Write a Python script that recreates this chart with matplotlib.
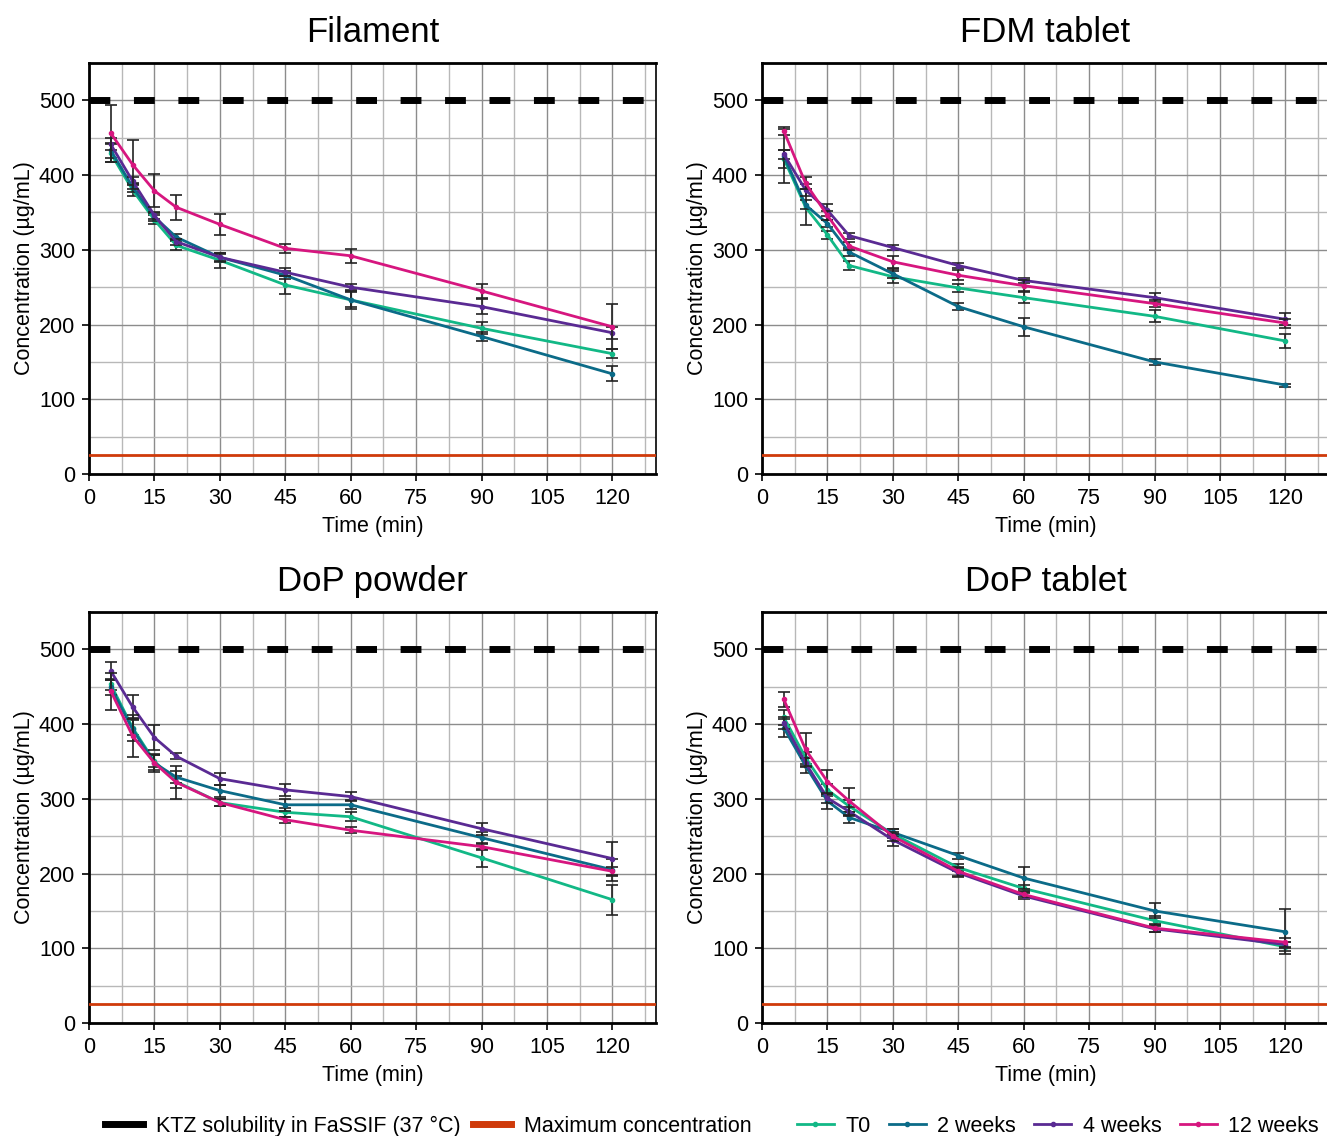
import numpy as np
import matplotlib
matplotlib.use('Agg')
import matplotlib.pyplot as plt
from matplotlib.lines import Line2D
from matplotlib.ticker import MultipleLocator

plt.rcParams['font.family'] = ['Liberation Sans', 'DejaVu Sans']

# sampling times (min)
times = [5, 10, 15, 20, 30, 45, 60, 90, 120]

series_names = ['T0', '2 weeks', '4 weeks', '12 weeks']
series_colors = ['#12b886', '#0b6b88', '#5a2a93', '#d6167f']

panel_titles = ['Filament', 'FDM tablet', 'DoP powder', 'DoP tablet']

solubility = 500      # KTZ solubility in FaSSIF
max_conc = 25         # maximum concentration

# mean concentrations (µg/mL) per panel, per series
filament_mean = [
    [429, 380, 340, 306, 286, 253, 233, 195, 161],
    [433, 384, 344, 317, 290, 266, 233, 184, 134],
    [441, 392, 346, 311, 290, 270, 250, 224, 189],
    [456, 414, 379, 357, 334, 302, 292, 245, 197],
]
filament_err = [
    [12, 8, 6, 6, 10, 12, 10, 8, 6],
    [10, 6, 5, 4, 6, 5, 12, 6, 10],
    [8, 5, 5, 4, 5, 5, 4, 10, 8],
    [38, 33, 22, 17, 14, 6, 9, 9, 30],
]

fdm_mean = [
    [422, 357, 320, 279, 264, 249, 236, 211, 178],
    [426, 360, 335, 297, 268, 224, 197, 150, 119],
    [428, 380, 353, 319, 303, 279, 259, 236, 207],
    [459, 389, 346, 305, 284, 266, 252, 228, 202],
]
fdm_err = [
    [12, 24, 5, 6, 8, 5, 7, 8, 10],
    [36, 6, 5, 5, 6, 5, 12, 4, 2],
    [6, 8, 8, 4, 3, 3, 3, 6, 8],
    [6, 8, 6, 5, 8, 7, 7, 5, 6],
]

powder_mean = [
    [453, 395, 350, 323, 295, 282, 276, 221, 165],
    [449, 393, 348, 329, 311, 292, 292, 248, 205],
    [471, 423, 382, 357, 327, 312, 303, 260, 220],
    [444, 384, 348, 322, 295, 272, 258, 236, 203],
]
powder_err = [
    [8, 10, 8, 8, 5, 6, 6, 12, 20],
    [10, 15, 10, 8, 8, 8, 6, 8, 15],
    [12, 16, 17, 4, 8, 8, 6, 8, 22],
    [25, 28, 12, 22, 5, 4, 4, 5, 6],
]

dop_tab_mean = [
    [409, 355, 312, 290, 253, 208, 180, 137, 102],
    [395, 344, 297, 275, 255, 224, 194, 150, 122],
    [402, 348, 301, 283, 245, 201, 170, 126, 105],
    [433, 366, 323, 297, 250, 203, 172, 127, 108],
]
dop_tab_err = [
    [10, 8, 8, 8, 6, 5, 5, 6, 6],
    [12, 10, 10, 8, 5, 4, 15, 10, 30],
    [8, 6, 6, 6, 8, 6, 4, 4, 4],
    [10, 22, 15, 18, 6, 6, 4, 5, 6],
]

panel_means = [filament_mean, fdm_mean, powder_mean, dop_tab_mean]
panel_errs = [filament_err, fdm_err, powder_err, dop_tab_err]

fig = plt.figure(figsize=(13.27, 11.36), dpi=100)
W, H = 1327, 1136
ax_w, ax_h = 567 / W, 411 / H
lefts = [89 / W, 762 / W]
bottoms = [1 - 474 / H, 1 - 1023 / H]
positions = [(lefts[0], bottoms[0]), (lefts[1], bottoms[0]),
             (lefts[0], bottoms[1]), (lefts[1], bottoms[1])]

for k, (l, b) in enumerate(positions):
    ax = fig.add_axes([l, b, ax_w, ax_h])
    ax.set_xlim(0, 130)
    ax.set_ylim(0, 550)
    ax.xaxis.set_major_locator(MultipleLocator(15))
    ax.xaxis.set_minor_locator(MultipleLocator(7.5))
    ax.yaxis.set_major_locator(MultipleLocator(100))
    ax.yaxis.set_minor_locator(MultipleLocator(50))
    ax.grid(which='major', color='#8c8c8c', lw=1.0)
    ax.grid(which='minor', color='#b8b8b8', lw=1.0)
    ax.set_axisbelow(True)

    ax.axhline(solubility, color='black', lw=5, dashes=(3.0, 3.4), zorder=3)
    ax.axhline(max_conc, color='#cf3a0a', lw=2, zorder=3)

    for j in range(4):
        ax.errorbar(times, panel_means[k][j], yerr=panel_errs[k][j],
                    color=series_colors[j], ecolor='#222222', elinewidth=1.2,
                    capsize=4.5, capthick=1.2, lw=2, marker='o', ms=3,
                    zorder=4 + j)

    ax.set_title(panel_titles[k], fontsize=25, pad=15)
    ax.set_xlabel('Time (min)', fontsize=15.5, labelpad=5)
    ax.set_ylabel('Concentration (µg/mL)', fontsize=15.5, labelpad=3)
    ax.tick_params(which='major', labelsize=15.5, length=5, width=1.2,
                   direction='out', pad=5)
    ax.tick_params(which='minor', length=0)
    for side in ['left', 'bottom', 'top']:
        ax.spines[side].set_linewidth(2)
    ax.spines['right'].set_linewidth(1.2)

h1 = [Line2D([], [], color='black', lw=5), Line2D([], [], color='#cf3a0a', lw=5)]
fig.legend(h1, ['KTZ solubility in FaSSIF (37 °C)', 'Maximum concentration'],
           loc='center left', bbox_to_anchor=(105 / W, 1 - 1126 / H), ncol=2,
           frameon=False, fontsize=15.5, handlelength=1.75, handletextpad=0.6,
           columnspacing=0.6, borderaxespad=0, borderpad=0)

h2 = [Line2D([], [], color=c, lw=2, marker='o', ms=3) for c in series_colors]
fig.legend(h2, series_names, loc='center left',
           bbox_to_anchor=(797 / W, 1 - 1126 / H), ncol=4, frameon=False,
           fontsize=15.5, handlelength=1.7, handletextpad=0.55, columnspacing=0.85,
           borderaxespad=0, borderpad=0)

fig.savefig('out.png', dpi=100)
